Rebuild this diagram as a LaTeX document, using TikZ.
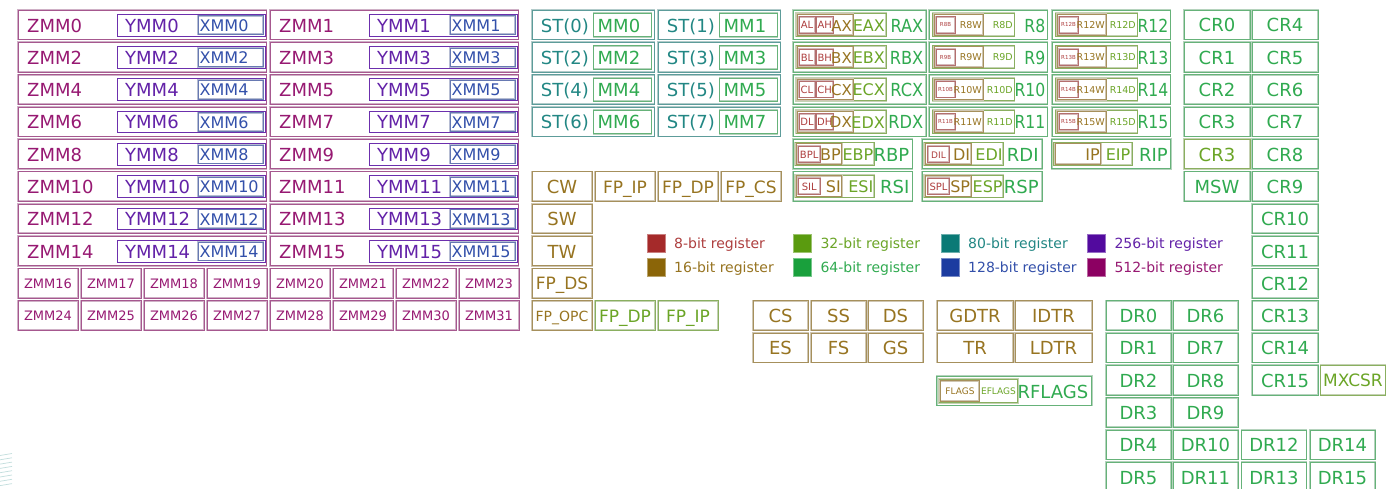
\documentclass[tikz,border=0pt]{standalone}
\usepackage{fontspec}
\setmainfont{DejaVu Sans}
\usepackage{graphicx}
\definecolor{cA}{RGB}{165,42,42}   % 8-bit
\definecolor{cB}{RGB}{139,101,8}   % 16-bit
\definecolor{cC}{RGB}{90,155,15}   % 32-bit
\definecolor{cD}{RGB}{25,160,60}   % 64-bit
\definecolor{cE}{RGB}{10,122,118}  % 80-bit
\definecolor{cF}{RGB}{28,60,160}   % 128-bit
\definecolor{cG}{RGB}{82,10,158}   % 256-bit
\definecolor{cH}{RGB}{140,0,98}    % 512-bit
\tikzset{
  rb/.style={draw=#1!55!gray!40, line width=1.8pt, postaction={draw=#1!75!gray!75, line width=0.6pt}},
  lb/.style={text=#1!90, inner sep=0pt},
  f/.style={font=\fontsize{#1}{#1}\selectfont},
  legsq/.style={fill=#1, draw=#1!60, line width=0.8pt},
}
\newcommand\hs[2]{\scalebox{#1}[1]{#2}}
% [size]{name}{colour}{x0}{x1}{row}{text}
\newcommand\cbox[7][18]{%
  \pgfmathsetmacro\rT{10+32.3*#6}%
  \pgfmathsetmacro\rB{\rT+14.75+0.4*#1}%
  \draw[rb=#3] (#4,\rT) rectangle (#5,\rT+29.5);
  \node[lb=#3,f=#1,anchor=base] (#2) at ({(#4+#5)/2},\rB) {#7};}
\begin{document}
\begin{tikzpicture}[x=1pt,y=-1pt]
\fill[white] (0,0) rectangle (1390,488);
\useasboundingbox (0,0) rectangle (1390,488);

% ---------- ZMM / YMM / XMM ----------
\foreach \r in {0,...,7}{
  \pgfmathsetmacro\rT{10+32.3*\r}
  \pgfmathtruncatemacro\za{2*\r}
  \pgfmathtruncatemacro\zb{2*\r+1}
  \foreach \xo/\n in {18/\za, 270/\zb}{
    \draw[rb=cH] (\xo,\rT) rectangle (\xo+248.5,\rT+29.5);
    \draw[cG!85, line width=0.9pt] (\xo+99,\rT+4.3) rectangle (\xo+247,\rT+26);
    \draw[rb=cF] (\xo+180,\rT+5.7) rectangle (\xo+245,\rT+24.3);
    \node[lb=cH,f=18,anchor=base west] (zmm\n) at (\xo+9,\rT+22) {ZMM\n};
    \node[lb=cG,f=18,anchor=base west] (ymm\n) at (\xo+107,\rT+22) {YMM\n};
    \node[lb=cF,f=16,anchor=base west] (xmm\n) at (\xo+181.5,\rT+21.2) {XMM\n};
  }
}
\foreach \k in {0,...,7}{
  \pgfmathsetmacro\bxl{\k<4 ? 18+63*\k : 270+63*(\k-4)}
  \pgfmathtruncatemacro\na{16+\k}
  \pgfmathtruncatemacro\nb{24+\k}
  \cbox[13]{zmm\na}{cH}{\bxl}{\bxl+60}{8}{ZMM\na}
  \cbox[13]{zmm\nb}{cH}{\bxl}{\bxl+60}{9}{ZMM\nb}
}

% ---------- ST / MM ----------
\foreach \r in {0,...,3}{
  \pgfmathsetmacro\rT{10+32.3*\r}
  \pgfmathtruncatemacro\sa{2*\r}
  \pgfmathtruncatemacro\sb{2*\r+1}
  \foreach \xo/\n in {532/\sa, 658/\sb}{
    \draw[rb=cE] (\xo,\rT) rectangle (\xo+122.5,\rT+29.5);
    \draw[rb=cD] (\xo+61.5,\rT+3.3) rectangle (\xo+119.5,\rT+26.7);
    \node[lb=cE,f=18,anchor=base west] (st\n) at (\xo+8.7,\rT+22) {ST(\n)};
    \node[lb=cD,f=18,anchor=base west] (mm\n) at (\xo+65.5,\rT+22) {MM\n};
  }
}

% ---------- x87 control ----------
\cbox{cw}{cB}{532}{592}{5}{CW}
\cbox[17]{fpip}{cB}{595}{655}{5}{FP\_IP}
\cbox[17]{fpdp}{cB}{658}{718}{5}{FP\_DP}
\cbox[17]{fpcs}{cB}{721}{781}{5}{FP\_CS}
\cbox{sw}{cB}{532}{592}{6}{SW}
\cbox{tw}{cB}{532}{592}{7}{TW}
\cbox[17]{fpds}{cB}{532}{592}{8}{FP\_DS}
\cbox[14]{fpopc}{cB}{532}{592}{9}{FP\_OPC}
\cbox[17]{fpdpb}{cC}{595}{655}{9}{FP\_DP}
\cbox[17]{fpipb}{cC}{658}{718}{9}{FP\_IP}

% ---------- RAX..RDX ----------
\foreach \r/\q in {0/A,1/B,2/C,3/D}{
  \pgfmathsetmacro\rT{10+32.3*\r}
  \draw[rb=cD] (793,\rT) rectangle (926,\rT+29.5);
  \draw[rb=cC] (796,\rT+3.3) rectangle (886,\rT+26);
  \draw[rb=cB] (797,\rT+4.2) rectangle (853,\rT+25);
  \draw[rb=cA] (799,\rT+6.7) rectangle (815,\rT+22.8);
  \draw[rb=cA] (816.5,\rT+6.7) rectangle (833,\rT+22.8);
  \node[lb=cA,f=10,anchor=base] (g\q l) at (807,\rT+18.9) {\q L};
  \node[lb=cA,f=10,anchor=base] (g\q h) at (824.7,\rT+18.9) {\q H};
  \node[lb=cB,f=15,anchor=base east] (g\q x) at (852,\rT+21) {\q X};
  \node[lb=cC,f=16,anchor=base east] (g\q e) at (885,\rT+21.3) {E\q X};
  \node[lb=cD,f=18,anchor=base east] (g\q r) at (923.5,\rT+22) {\hs{0.9}{R\q X}};
}

% ---------- R8..R15 ----------
\foreach \r in {0,...,3}{
  \pgfmathsetmacro\rT{10+32.3*\r}
  \pgfmathtruncatemacro\na{8+\r}
  \pgfmathtruncatemacro\nb{12+\r}
  \foreach \xo/\n in {929/\na, 1052/\nb}{
    \draw[rb=cD] (\xo,\rT) rectangle (\xo+118.5,\rT+29.5);
    \draw[rb=cC] (\xo+3.5,\rT+3.3) rectangle (\xo+85.5,\rT+26);
    \draw[rb=cB] (\xo+5,\rT+4.2) rectangle (\xo+54,\rT+25);
    \draw[rb=cA] (\xo+7,\rT+6.7) rectangle (\xo+26,\rT+22.8);
    \node[lb=cA,f=5.5,anchor=base] (r\n b) at (\xo+16.5,\rT+16.8) {R\n B};
    \node[lb=cB,f=9.5,anchor=base east] (r\n w) at (\xo+53,\rT+18.5) {R\n W};
    \node[lb=cC,f=9.5,anchor=base east] (r\n d) at (\xo+84,\rT+18.5) {R\n D};
    \node[lb=cD,f=18,anchor=base east] (r\n) at (\xo+116.5,\rT+22) {\hs{0.87}{R\n}};
  }
}

% ---------- RBP, RSI, RDI, RSP, RIP ----------
\foreach \r/\xo/\p/\lo/\ls in {4/793/BP/BPL/10, 5/793/SI/SIL/10, 4/922.3/DI/DIL/9, 5/922.3/SP/SPL/10}{
  \pgfmathsetmacro\rT{10+32.3*\r}
  \draw[rb=cD] (\xo,\rT) rectangle (\xo+119.5,\rT+29.5);
  \draw[rb=cC] (\xo+1.8,\rT+3.3) rectangle (\xo+81,\rT+26);
  \draw[rb=cB] (\xo+3,\rT+4.2) rectangle (\xo+48.7,\rT+25);
  \draw[rb=cA] (\xo+5.3,\rT+6.7) rectangle (\xo+27,\rT+22.8);
  \node[lb=cA,f=\ls,anchor=base] (p\p l) at (\xo+16.2,\rT+18.9) {\lo};
  \node[lb=cB,f=16,anchor=base east] (p\p w) at (\xo+48,\rT+21.3) {\p};
  \node[lb=cC,f=16,anchor=base east] (p\p e) at (\xo+80.5,\rT+21.3) {E\p};
  \node[lb=cD,f=18,anchor=base east] (p\p r) at (\xo+116.5,\rT+22) {R\p};
}
\pgfmathsetmacro\rT{10+32.3*4}
\draw[rb=cD] (1051.7,\rT) rectangle (1170.7,\rT+29.5);
\draw[rb=cC] (1053.3,\rT+3.3) rectangle (1132.3,\rT+26);
\draw[rb=cB] (1055,\rT+4.2) rectangle (1100.7,\rT+25);
\node[lb=cB,f=16,anchor=base east] (ip) at (1100,\rT+21.3) {IP};
\node[lb=cC,f=16,anchor=base east] (eip) at (1130.5,\rT+21.3) {EIP};
\node[lb=cD,f=18,anchor=base east] (rip) at (1168,\rT+22) {RIP};

% ---------- control registers ----------
\cbox{cr0}{cD}{1184}{1250}{0}{CR0}
\cbox{cr1}{cD}{1184}{1250}{1}{CR1}
\cbox{cr2}{cD}{1184}{1250}{2}{CR2}
\cbox{cr3}{cD}{1184}{1250}{3}{CR3}
\cbox{cr3e}{cC}{1184}{1250}{4}{CR3}
\cbox{msw}{cD}{1184}{1250}{5}{MSW}
\foreach \r in {0,...,11}{
  \pgfmathtruncatemacro\n{4+\r}
  \cbox{cr\n}{cD}{1252}{1318}{\r}{CR\n}
}
\cbox[17]{mxcsr}{cC}{1320.5}{1385.5}{11}{MXCSR}

% ---------- debug registers ----------
\foreach \r/\a/\b in {9/0/6, 10/1/7, 11/2/8, 12/3/9, 13/4/10, 14/5/11}{
  \cbox{dr\a}{cD}{1106}{1171}{\r}{DR\a}
  \cbox{dr\b}{cD}{1173}{1238}{\r}{DR\b}
}
\cbox{dr12}{cD}{1241.5}{1306.5}{13}{DR12}
\cbox{dr14}{cD}{1310}{1375}{13}{DR14}
\cbox{dr13}{cD}{1241.5}{1306.5}{14}{DR13}
\cbox{dr15}{cD}{1310}{1375}{14}{DR15}

% ---------- segment & table registers ----------
\cbox{cs}{cB}{753}{808}{9}{CS}
\cbox{ss}{cB}{811}{866}{9}{SS}
\cbox{ds}{cB}{868}{923}{9}{DS}
\cbox{es}{cB}{753}{808}{10}{ES}
\cbox{fs}{cB}{811}{866}{10}{FS}
\cbox{gs}{cB}{868}{923}{10}{GS}
\cbox{gdtr}{cB}{937}{1013}{9}{GDTR}
\cbox{idtr}{cB}{1015}{1092}{9}{IDTR}
\cbox{tr}{cB}{937}{1013}{10}{TR}
\cbox{ldtr}{cB}{1015}{1092}{10}{LDTR}

% ---------- flags ----------
\draw[rb=cD] (936.7,376) rectangle (1091.7,405.5);
\draw[rb=cC] (939,379) rectangle (1017.7,402.7);
\draw[rb=cB] (940,380.7) rectangle (979.3,401.3);
\node[lb=cB,f=9,anchor=base] (flags) at (960,394.2) {FLAGS};
\node[lb=cC,f=9,anchor=base] (eflags) at (998.5,394.2) {EFLAGS};
\node[lb=cD,f=18,anchor=base east] (rflags) at (1088.5,398) {RFLAGS};

% ---------- legend ----------
\foreach \xo/\ya/\c/\t in {647/234/cA/8, 647/258/cB/16, 793.3/234/cC/32, 793.3/258/cD/64,
                         941/234/cE/80, 941/258/cF/128, 1087.3/234/cG/256, 1087.3/258/cH/512}{
  \draw[legsq=\c] (\xo,\ya) rectangle (\xo+18,\ya+18);
  \node[lb=\c,f=14,anchor=base west] (leg\t) at (\xo+27,\ya+14.5) {\t-bit register};
}

% ---------- faint marks at lower left ----------
\foreach \i in {0,...,7}{
  \draw[cE!25, line width=0.7pt] (0,455.5+4.3*\i) -- (12,453.5+4.3*\i);
}
\end{tikzpicture}
\end{document}
